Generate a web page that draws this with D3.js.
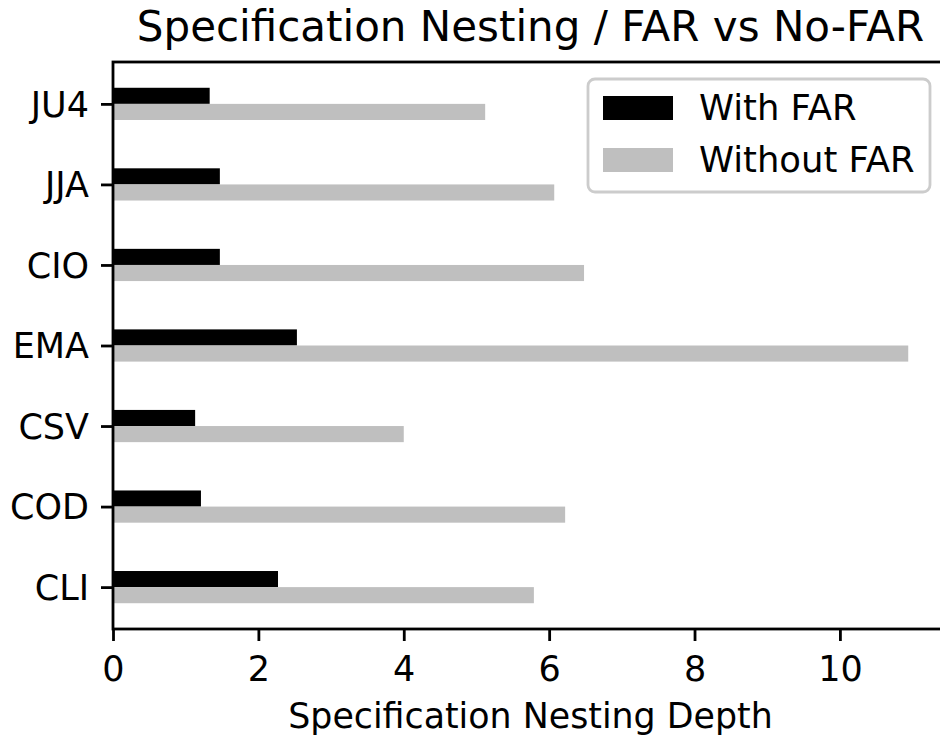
<!DOCTYPE html>
<html>
<head>
<meta charset="utf-8">
<script src="https://cdn.jsdelivr.net/npm/d3@7"></script>
<style>
  body { margin: 0; background: #fff; }
  svg { display: block; font-family: "DejaVu Sans", sans-serif; }
</style>
</head>
<body>
<svg id="chart" width="940" height="736"></svg>
<script>
// categories bottom to top, as matplotlib stacks them
const categories = ["CLI", "COD", "CSV", "EMA", "CIO", "JJA", "JU4"];
const withFar = [2.27, 1.21, 1.13, 2.53, 1.47, 1.47, 1.33];
const withoutFar = [5.79, 6.22, 4.0, 10.94, 6.48, 6.07, 5.12];
const xTicks = [0, 2, 4, 6, 8, 10];
const seriesNames = ["With FAR", "Without FAR"];
const seriesColors = ["#000000", "#bfbfbf"];

const svg = d3.select("#chart");
const mLeft = 113, mRight = 948, mTop = 62, mBottom = 629;
const barH = 0.2;

const x = d3.scaleLinear()
  .domain([0, d3.max(withoutFar) * 1.05])
  .range([mLeft, mRight]);
const y = d3.scaleLinear()
  .domain([-0.52, categories.length - 1 + 0.52])
  .range([mBottom, mTop]);

// bars
const g = svg.append("g");
g.selectAll("rect.with")
  .data(withFar)
  .join("rect")
  .attr("class", "with")
  .attr("x", x(0))
  .attr("y", (d, i) => y(i + barH))
  .attr("width", d => x(d) - x(0))
  .attr("height", y(0) - y(barH))
  .attr("fill", seriesColors[0]);
g.selectAll("rect.without")
  .data(withoutFar)
  .join("rect")
  .attr("class", "without")
  .attr("x", x(0))
  .attr("y", (d, i) => y(i))
  .attr("width", d => x(d) - x(0))
  .attr("height", y(0) - y(barH))
  .attr("fill", seriesColors[1]);

// axes
const xAxis = d3.axisBottom(x).tickValues(xTicks).tickSize(12).tickPadding(12).tickFormat(d3.format("d"));
const yAxis = d3.axisLeft(y).tickValues(d3.range(categories.length)).tickSize(12).tickPadding(12)
  .tickFormat(i => categories[i]);

const xa = svg.append("g").attr("transform", `translate(0,${mBottom})`).call(xAxis);
const ya = svg.append("g").attr("transform", `translate(${mLeft},0)`).call(yAxis);
[xa, ya].forEach(a => {
  a.select(".domain").remove();
  a.selectAll(".tick line").attr("stroke", "#000").attr("stroke-width", 2.8);
  a.selectAll(".tick text").attr("fill", "#000").attr("font-size", 35)
    .attr("font-family", "DejaVu Sans");
});
xa.selectAll(".tick text").attr("dy", null).attr("y", 52);
ya.selectAll(".tick text").attr("dy", "0.35em");

// spines
svg.append("rect")
  .attr("x", mLeft).attr("y", mTop)
  .attr("width", mRight - mLeft).attr("height", mBottom - mTop)
  .attr("fill", "none").attr("stroke", "#000").attr("stroke-width", 2.8);

// title and label
svg.append("text")
  .attr("x", (mLeft + mRight) / 2).attr("y", 41)
  .attr("text-anchor", "middle").attr("font-size", 42)
  .text("Specification Nesting / FAR vs No-FAR");
svg.append("text")
  .attr("x", (mLeft + mRight) / 2).attr("y", 728)
  .attr("text-anchor", "middle").attr("font-size", 34.8)
  .text("Specification Nesting Depth");

// legend
const lg = svg.append("g");
lg.append("rect")
  .attr("x", 588).attr("y", 79).attr("width", 342).attr("height", 113)
  .attr("rx", 7).attr("fill", "#fff").attr("fill-opacity", 0.8)
  .attr("stroke", "#cccccc").attr("stroke-width", 2.8);
seriesNames.forEach((name, i) => {
  const cy = 108 + i * 52;
  lg.append("rect")
    .attr("x", 603).attr("y", cy - 12).attr("width", 70).attr("height", 24)
    .attr("fill", seriesColors[i]);
  lg.append("text")
    .attr("x", 699).attr("y", cy).attr("dy", "0.35em")
    .attr("font-size", 35.4).text(name);
});
</script>
</body>
</html>
